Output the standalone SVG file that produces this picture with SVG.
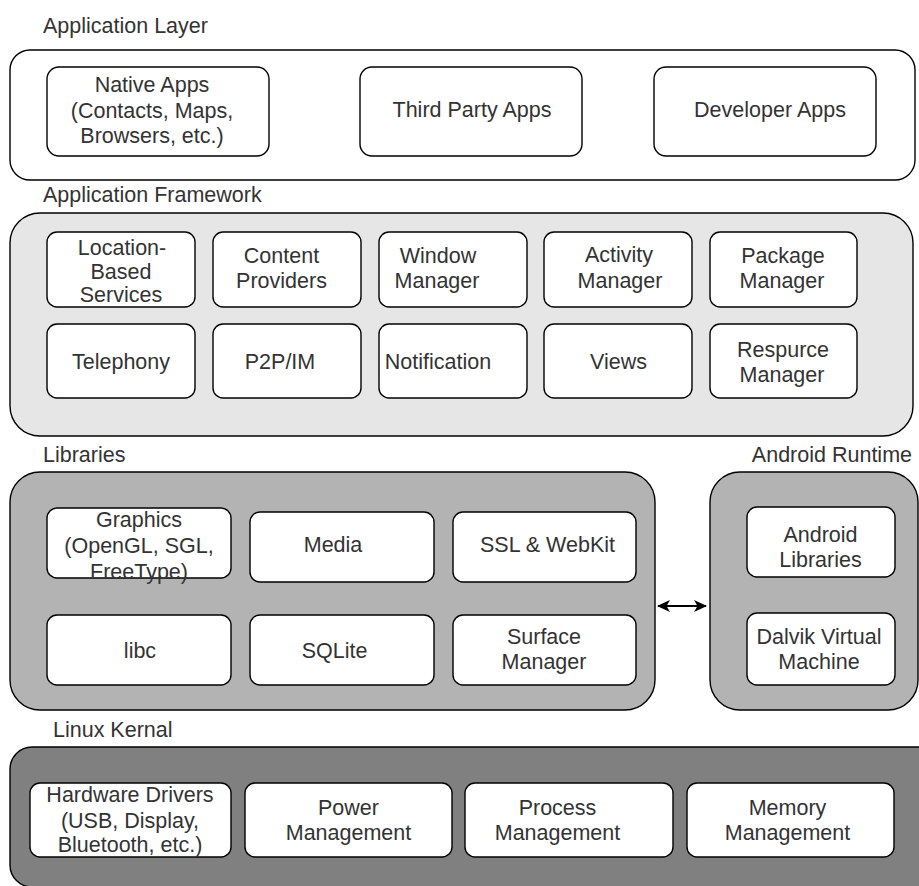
<svg xmlns="http://www.w3.org/2000/svg" width="919" height="886" viewBox="0 0 919 886">
<defs>
<style>
text{font-family:"Liberation Sans",Arial,sans-serif;font-size:21.5px;fill:#333;}
.c{text-anchor:middle;}
.box{stroke:#000;stroke-width:1.4;fill:#fff;}
.outer{stroke:#000;stroke-width:1.4;}
</style>
<marker id="ah" viewBox="0 0 13 12" refX="12" refY="6" markerWidth="13" markerHeight="12" markerUnits="userSpaceOnUse" orient="auto-start-reverse">
<path d="M0,0 L13,6 L0,12 L3.5,6 Z" fill="#000"/>
</marker>
</defs>
<rect width="919" height="886" fill="#fff"/>

<g id="app-layer">
<text x="43" y="33">Application Layer</text>
<rect class="outer" x="10" y="50" width="905" height="130" rx="20" fill="#fff"/>
</g>
<g id="native-apps">
<rect class="box" x="47" y="67" width="222" height="89" rx="12"/>
<text class="c" x="152" y="92">Native Apps</text>
<text class="c" x="152" y="117.5">(Contacts, Maps,</text>
<text class="c" x="152" y="143">Browsers, etc.)</text>
</g>
<g id="third-party-apps">
<rect class="box" x="360" y="67" width="222" height="89" rx="12"/>
<text class="c" x="472" y="117">Third Party Apps</text>
</g>
<g id="developer-apps">
<rect class="box" x="654" y="67" width="222" height="89" rx="12"/>
<text class="c" x="770" y="117">Developer Apps</text>
</g>

<g id="app-framework">
<text x="43" y="202">Application Framework</text>
<rect class="outer" x="10" y="213" width="903" height="223" rx="30" fill="#e6e6e6"/>
</g>
<g id="location">
<rect class="box" x="47" y="232" width="148" height="75" rx="10"/>
<text class="c" x="122" y="255">Location-</text>
<text class="c" x="121" y="278.5">Based</text>
<text class="c" x="121" y="302">Services</text>
</g>
<g id="content-providers">
<rect class="box" x="213" y="232" width="148" height="75" rx="10"/>
<text class="c" x="281.5" y="263">Content</text>
<text class="c" x="281.5" y="288">Providers</text>
</g>
<g id="window-manager">
<rect class="box" x="379" y="232" width="148" height="75" rx="10"/>
<text class="c" x="438" y="263">Window</text>
<text class="c" x="437" y="288">Manager</text>
</g>
<g id="activity-manager">
<rect class="box" x="544" y="232" width="148" height="75" rx="10"/>
<text class="c" x="619" y="262">Activity</text>
<text class="c" x="620" y="288">Manager</text>
</g>
<g id="package-manager">
<rect class="box" x="710" y="232" width="147" height="75" rx="10"/>
<text class="c" x="783" y="263">Package</text>
<text class="c" x="782" y="288">Manager</text>
</g>
<g id="telephony">
<rect class="box" x="47" y="324" width="148" height="74" rx="10"/>
<text class="c" x="121" y="369">Telephony</text>
</g>
<g id="p2p-im">
<rect class="box" x="213" y="324" width="148" height="74" rx="10"/>
<text class="c" x="280" y="369">P2P/IM</text>
</g>
<g id="notification">
<rect class="box" x="379" y="324" width="148" height="74" rx="10"/>
<text class="c" x="438" y="369">Notification</text>
</g>
<g id="views">
<rect class="box" x="544" y="324" width="148" height="74" rx="10"/>
<text class="c" x="618.5" y="369">Views</text>
</g>
<g id="resource-manager">
<rect class="box" x="710" y="324" width="147" height="74" rx="10"/>
<text class="c" x="783" y="357">Respurce</text>
<text class="c" x="782" y="382">Manager</text>
</g>

<g id="libraries">
<text x="43" y="462">Libraries</text>
<rect class="outer" x="10" y="472" width="645" height="238" rx="30" fill="#b3b3b3"/>
</g>
<g id="graphics">
<rect class="box" x="47" y="508" width="184" height="70" rx="10"/>
<text class="c" x="139" y="527">Graphics</text>
<text class="c" x="139" y="553">(OpenGL, SGL,</text>
<text class="c" x="139" y="578.5">FreeType)</text>
</g>
<g id="media">
<rect class="box" x="250" y="512" width="184" height="70" rx="10"/>
<text class="c" x="333" y="552">Media</text>
</g>
<g id="ssl-webkit">
<rect class="box" x="453" y="512" width="183" height="70" rx="10"/>
<text class="c" x="547.5" y="552">SSL &amp; WebKit</text>
</g>
<g id="libc">
<rect class="box" x="47" y="615" width="184" height="70" rx="10"/>
<text class="c" x="140" y="658">libc</text>
</g>
<g id="sqlite">
<rect class="box" x="250" y="615" width="184" height="70" rx="10"/>
<text class="c" x="334.5" y="658">SQLite</text>
</g>
<g id="surface-manager">
<rect class="box" x="453" y="615" width="183" height="70" rx="10"/>
<text class="c" x="544" y="643.5">Surface</text>
<text class="c" x="544" y="668.5">Manager</text>
</g>

<g id="android-runtime">
<text x="912" y="462" text-anchor="end">Android Runtime</text>
<rect class="outer" x="710" y="472" width="208" height="238" rx="30" fill="#b3b3b3"/>
</g>
<g id="android-libraries">
<rect class="box" x="747" y="507" width="148" height="70" rx="10"/>
<text class="c" x="820.5" y="542">Android</text>
<text class="c" x="820.5" y="567">Libraries</text>
</g>
<g id="dalvik">
<rect class="box" x="747" y="613" width="148" height="72" rx="10"/>
<text class="c" x="819" y="643.5">Dalvik Virtual</text>
<text class="c" x="819" y="668.5">Machine</text>
</g>

<g id="connectors">
<line x1="658" y1="606" x2="706" y2="606" stroke="#000" stroke-width="1.8" marker-start="url(#ah)" marker-end="url(#ah)"/>
</g>

<g id="linux-kernel">
<text x="53" y="737">Linux Kernal</text>
<rect class="outer" x="10" y="747" width="930" height="140" rx="22" fill="#808080"/>
</g>
<g id="hardware-drivers">
<rect class="box" x="30" y="783" width="201" height="74" rx="10"/>
<text class="c" x="130" y="802">Hardware Drivers</text>
<text class="c" x="130" y="827.5">(USB, Display,</text>
<text class="c" x="130" y="852">Bluetooth, etc.)</text>
</g>
<g id="power-management">
<rect class="box" x="245" y="783" width="207" height="74" rx="10"/>
<text class="c" x="348.5" y="815">Power</text>
<text class="c" x="348.5" y="840">Management</text>
</g>
<g id="process-management">
<rect class="box" x="465" y="783" width="208" height="74" rx="10"/>
<text class="c" x="557.5" y="815">Process</text>
<text class="c" x="557.5" y="840">Management</text>
</g>
<g id="memory-management">
<rect class="box" x="687" y="783" width="207" height="74" rx="10"/>
<text class="c" x="787.5" y="815">Memory</text>
<text class="c" x="787.5" y="840">Management</text>
</g>
</svg>
